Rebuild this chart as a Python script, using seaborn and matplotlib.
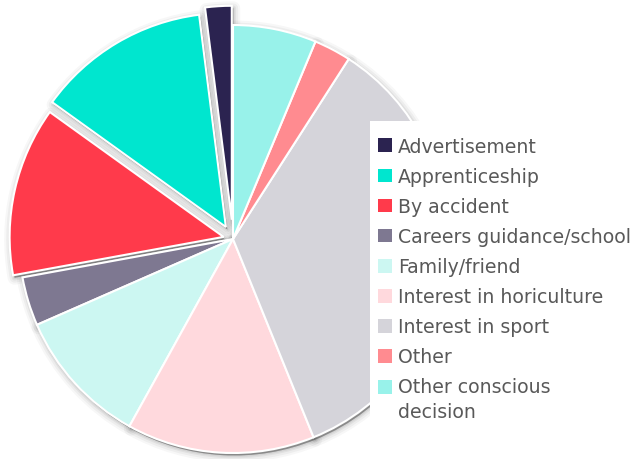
import matplotlib
matplotlib.use("Agg")
import matplotlib.pyplot as plt
import matplotlib.patches as mpatches
import seaborn as sns

# Why people got into the profession (share of responses, %)
categories = [
    "Advertisement",
    "Apprenticeship",
    "By accident",
    "Careers guidance/school",
    "Family/friend",
    "Interest in horiculture",
    "Interest in sport",
    "Other",
    "Other conscious\ndecision",
]
shares = [2.0, 13.1, 12.8, 3.7, 10.4, 14.2, 34.8, 2.8, 6.3]
colors = ["#2b2350", "#00e6cf", "#ff3a4b", "#7e7891", "#ccf7f2",
          "#ffd9dd", "#d5d4da", "#ff8b90", "#98f2ea"]
pulled_out = [0.09, 0.065, 0.045, 0, 0, 0, 0, 0, 0]

sns.set_theme(style="white")
plt.rcParams["font.family"] = ["DejaVu Sans"]

W, H = 634, 460
fig = plt.figure(figsize=(W / 100, H / 100), dpi=100)
ax = fig.add_axes([0, 0, 1, 1])

R = 214.0          # pie radius in pixels
cx, cy = 233.0, H - 240.0
px = 1.0 / R

wedges, _ = ax.pie(
    shares, colors=colors, startangle=90, counterclock=True, explode=pulled_out,
    wedgeprops=dict(edgecolor="white", linewidth=1.5, zorder=2),
)
ax.set_xlim(-cx / R, (W - cx) / R)
ax.set_ylim(-cy / R, (H - cy) / R)
ax.set_aspect("auto")
ax.axis("off")

# soft drop shadow under every slice
for w in wedges:
    wx, wy = w.center
    for lw, a in [(0, 0.20), (2, 0.06), (4, 0.05), (7, 0.04), (10, 0.03)]:
        ax.add_patch(mpatches.Wedge(
            (wx + 1.5 * px, wy - 2.5 * px), w.r, w.theta1, w.theta2,
            facecolor="black", edgecolor="black", linewidth=lw,
            joinstyle="round", alpha=a, zorder=1))

# white panel behind the legend
fig.patches.append(mpatches.Rectangle(
    (370 / W, 1 - 440 / H), 1, (440 - 122) / H, transform=fig.transFigure,
    facecolor="white", edgecolor="none", zorder=3))

handles = [mpatches.Patch(facecolor=c, edgecolor="none") for c in colors]
leg = fig.legend(
    handles, categories, loc="upper left", bbox_to_anchor=(378 / W, 1 - 138 / H),
    frameon=False, fontsize=13.6, handlelength=0.75, handleheight=0.75,
    handletextpad=0.3, labelspacing=0.585, borderpad=0, borderaxespad=0,
)
leg.set_zorder(5)
for t in leg.get_texts():
    t.set_color("#595959")
    t.set_linespacing(1.36)

# keep the swatch of the two-line entry level with its first line
last = leg.legend_handles[-1]
last.set_y(last.get_y() + 9.2)

fig.savefig("out.png", dpi=100)
